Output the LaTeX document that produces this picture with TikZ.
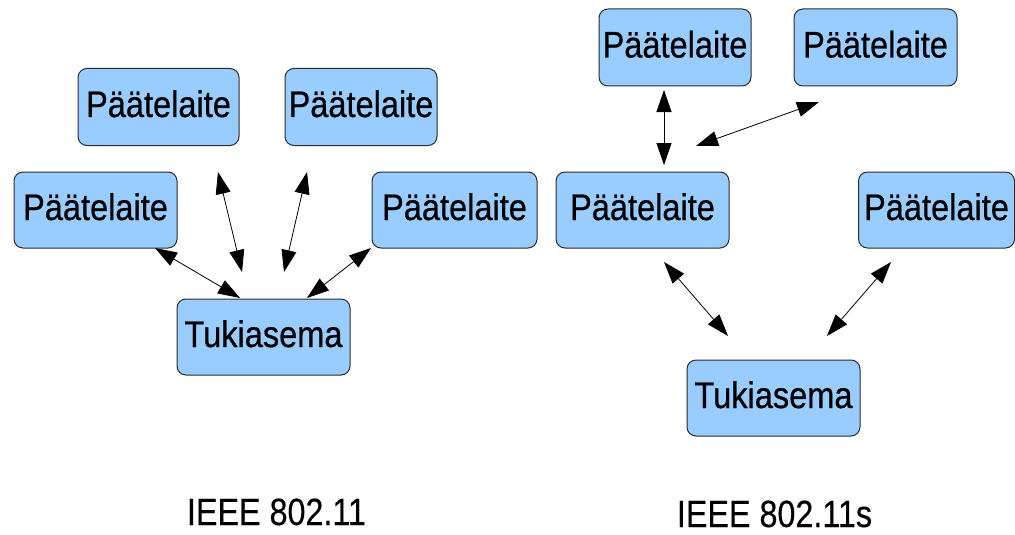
\documentclass[tikz,border=0pt]{standalone}
\usepackage{fontspec}
\setmainfont{Liberation Sans}
\newfontfamily\boxfont[FakeStretch=0.88,FakeBold=0.6]{Liberation Sans}
\newfontfamily\labfont[FakeStretch=0.85,FakeBold=0.3]{Liberation Sans}
\usetikzlibrary{arrows.meta}
\definecolor{boxblue}{HTML}{99CCFF}
\definecolor{boxedge}{HTML}{2B2B2B}
\begin{document}
\begin{tikzpicture}[x=1pt,y=-1pt,
  devbox/.style={draw=boxedge, fill=boxblue, line width=1pt, rounded corners=9pt,
    inner sep=0pt, text height=27pt, text depth=7pt,
    font=\boxfont\fontsize{37}{40}\selectfont},
  link/.style={draw=black, line width=0.8pt, {Triangle[length=22pt,width=15pt]}-{Triangle[length=22pt,width=15pt]}},
  caption/.style={font=\labfont\fontsize{38}{40}\selectfont, inner sep=0pt, anchor=base}]
\useasboundingbox (0,0) rectangle (1015,535);
% left group: IEEE 802.11
\node[devbox, minimum width=161pt, minimum height=77pt] (A) at (158.5,107) {Päätelaite};
\node[devbox, minimum width=152pt, minimum height=77pt] (B) at (361,107) {Päätelaite};
\node[devbox, minimum width=163pt, minimum height=76pt] (C) at (95.5,210) {Päätelaite};
\node[devbox, minimum width=165pt, minimum height=76pt] (D) at (454.5,210) {Päätelaite};
\node[devbox, minimum width=173pt, minimum height=76pt] (T) at (263.5,337) {Tukiasema};
\coordinate (a1) at (218,172); \coordinate (a2) at (242,272);
\coordinate (b1) at (307,172); \coordinate (b2) at (284,272);
\coordinate (c1) at (155,248); \coordinate (c2) at (240,298);
\coordinate (d1) at (371,248); \coordinate (d2) at (307,298);
\draw[link] (a1) -- (a2);
\draw[link] (b1) -- (b2);
\draw[link] (c1) -- (c2);
\draw[link] (d1) -- (d2);
\node[caption] (L1) at (276.5,525) {IEEE 802.11};
% right group: IEEE 802.11s
\node[devbox, minimum width=152pt, minimum height=77pt] (E) at (675,47.5) {Päätelaite};
\node[devbox, minimum width=163pt, minimum height=77pt] (F) at (875.5,47.5) {Päätelaite};
\node[devbox, minimum width=173pt, minimum height=76pt] (G) at (642.5,210) {Päätelaite};
\node[devbox, minimum width=156pt, minimum height=76pt] (H) at (936.5,210) {Päätelaite};
\node[devbox, minimum width=173pt, minimum height=76pt] (T2) at (773.5,398) {Tukiasema};
\coordinate (e1) at (664,90); \coordinate (e2) at (664,165);
\coordinate (f1) at (819,102); \coordinate (f2) at (696,146);
\coordinate (g1) at (664,262); \coordinate (g2) at (728,336);
\coordinate (h1) at (891,262); \coordinate (h2) at (827,336);
\draw[link] (e1) -- (e2);
\draw[link] (f1) -- (f2);
\draw[link] (g1) -- (g2);
\draw[link] (h1) -- (h2);
\node[caption] (L2) at (774.5,527) {IEEE 802.11s};
\end{tikzpicture}
\end{document}
